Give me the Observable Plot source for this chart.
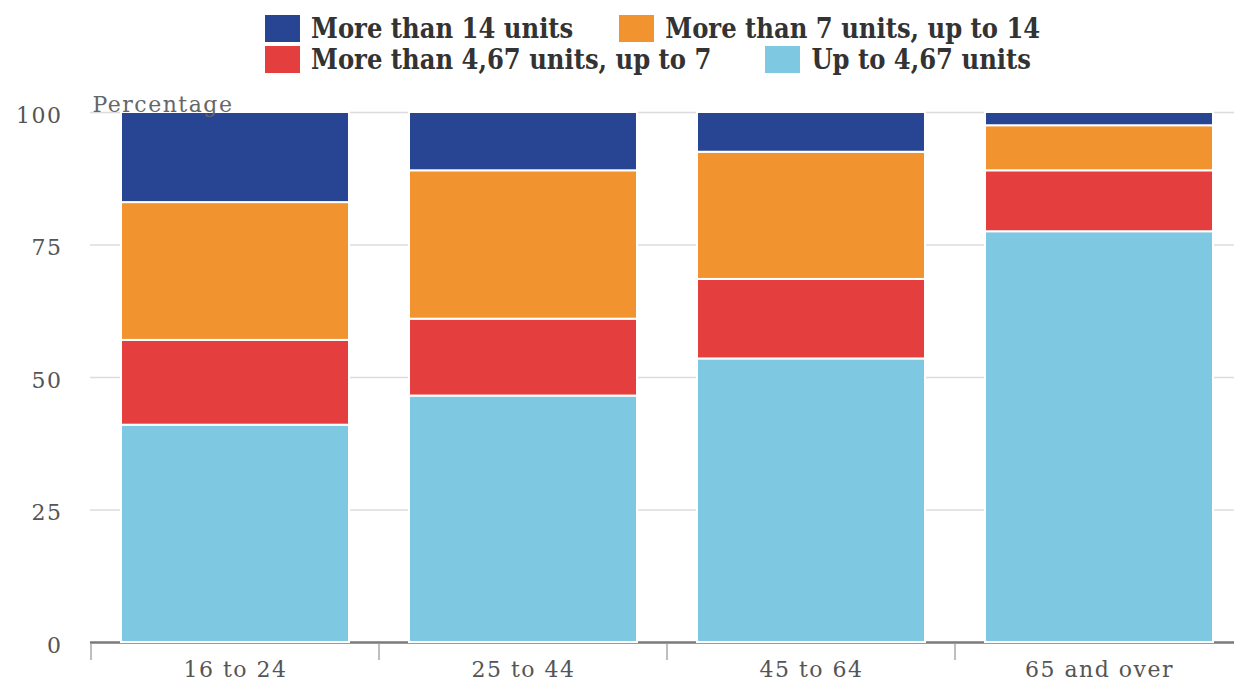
<!DOCTYPE html>
<html>
<head>
<meta charset="utf-8">
<script src="https://cdn.jsdelivr.net/npm/d3@7"></script>
<script src="https://cdn.jsdelivr.net/npm/@observablehq/plot@0.6"></script>
<style>
  html, body { margin: 0; padding: 0; background: #fff; }
  body { width: 1234px; height: 683px; overflow: hidden; }
  #legend { height: 80px; box-sizing: border-box; padding-top: 13px; padding-left: 265px;
    font-family: "DejaVu Serif Condensed", "DejaVu Serif", serif; font-weight: bold; font-size: 27px; color: #333; }
  .row { display: flex; align-items: center; height: 31px; white-space: nowrap; }
  .item { display: flex; align-items: center; margin-right: 46px; }
  .sw { width: 35px; height: 27px; margin-right: 11px; flex: none; }
</style>
</head>
<body>
<div id="legend"></div>
<div id="chart"></div>
<script>
const groups = ["16 to 24", "25 to 44", "45 to 64", "65 and over"];
const seriesNames = ["More than 14 units", "More than 7 units, up to 14", "More than 4,67 units, up to 7", "Up to 4,67 units"];
const seriesColors = ["#274593", "#f1932f", "#e43e3f", "#7ec8e1"];
const over14 = [17, 11, 7.5, 2.5];
const from7to14 = [26, 28, 24, 8.5];
const from467to7 = [16, 14.5, 15, 11.5];
const upTo467 = [41, 46.5, 53.5, 77.5];
const yTicks = [0, 25, 50, 75, 100];

const seriesValues = [over14, from7to14, from467to7, upTo467];
const stackOrder = ["Up to 4,67 units", "More than 4,67 units, up to 7", "More than 7 units, up to 14", "More than 14 units"];
const data = [];
for (const name of stackOrder) {
  const vals = seriesValues[seriesNames.indexOf(name)];
  groups.forEach((g, i) => data.push({group: g, series: name, value: vals[i]}));
}

// Legend
const legend = document.getElementById("legend");
for (const r of [[0, 1], [2, 3]]) {
  const row = document.createElement("div");
  row.className = "row";
  for (const i of r) {
    const item = document.createElement("div");
    item.className = "item";
    if (i === 3) item.style.marginLeft = "8px";
    item.innerHTML = `<div class="sw" style="background:${seriesColors[i]}"></div><span>${seriesNames[i]}</span>`;
    row.appendChild(item);
  }
  legend.appendChild(row);
}

const chart = Plot.plot({
  width: 1234,
  height: 603,
  marginTop: 32,
  marginBottom: 41,
  marginLeft: 90,
  marginRight: 0,
  style: {fontFamily: "DejaVu Serif, serif", fontSize: "22px", color: "#555", background: "white", letterSpacing: "1.5px", overflow: "visible"},
  x: {domain: groups, range: [90, 1243], paddingInner: 0.21, paddingOuter: 0.105, label: null},
  y: {domain: [0, 100], label: null},
  color: {domain: seriesNames, range: seriesColors},
  marks: [
    Plot.ruleY(yTicks.filter(d => d > 0), {stroke: "#dcdcdc", strokeWidth: 1.5}),
    Plot.ruleY([0], {stroke: "#7a7a7a", strokeWidth: 2.5}),
    Plot.barY(data, {x: "group", y: "value", fill: "series", order: stackOrder, stroke: "white", strokeWidth: 2}),
    Plot.axisY({ticks: yTicks, tickSize: 0, tickPadding: 28, label: null, fill: "#555", dy: 3}),
    Plot.axisX({tickSize: 0, tickPadding: 19, label: null, fill: "#555"}),
    Plot.text(["Percentage"], {frameAnchor: "top-left", textAnchor: "start", lineAnchor: "bottom", dx: 2, dy: -1, fill: "#666", fontSize: 22})
  ]
});
document.getElementById("chart").appendChild(chart);

// small vertical ticks at band boundaries, derived from the x scale
const xs = chart.scale("x");
const ys = chart.scale("y");
const y0 = ys.apply(0);
const bounds = groups.map(g => xs.apply(g) - (xs.step - xs.bandwidth) / 2);
d3.select(chart).append("g").selectAll("line").data(bounds).join("line")
  .attr("x1", d => d).attr("x2", d => d)
  .attr("y1", y0 + 2).attr("y2", y0 + 18)
  .attr("stroke", "#aaa").attr("stroke-width", 1.5);
</script>
</body>
</html>
